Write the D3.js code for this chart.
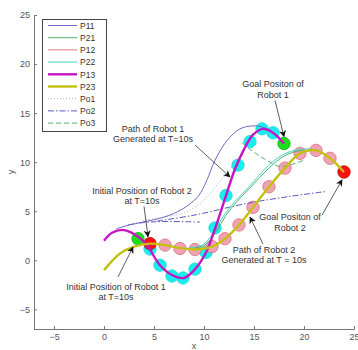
<!DOCTYPE html>
<html>
<head>
<meta charset="utf-8">
<script src="https://cdn.jsdelivr.net/npm/d3@7"></script>
<style>
  body { margin: 0; background: #fff; }
  svg text { font-family: "Liberation Sans", Arial, sans-serif; }
</style>
</head>
<body>
<svg width="358" height="350"></svg>
<script>
// tick values
var xTicks = [-5, 0, 5, 10, 15, 20, 25];
var yTicks = [-5, 0, 5, 10, 15, 20, 25];

// planned paths, [x, y]
var p13 = [[0, 2], [0.8, 2.8], [1.8, 3.1], [2.8, 2.8], [4.1, 1.8], [5.6, -0.5], [6.8, -1.5], [8.0, -1.8],
  [9.1, -0.9], [10.2, 0.8], [11.1, 3.2], [12.2, 6.6], [13.1, 9.3], [14.0, 11.3], [14.9, 12.8],
  [15.9, 13.4], [16.9, 13.0], [18.0, 11.9]];
var p23 = [[0, -1], [1.6, 0.7], [3.0, 1.4], [4.6, 1.7], [6.1, 1.55], [7.6, 1.25], [9.1, 1.1], [10.8, 1.4],
  [12.1, 2.2], [13.5, 3.6], [14.9, 5.4], [16.5, 7.5], [18.1, 9.4], [19.6, 10.9], [21.2, 11.2],
  [22.6, 10.4], [24.0, 9.0]];
var p12 = [[9.1, 1.15], [10.8, 1.45], [12.1, 2.25], [13.5, 3.65], [14.9, 5.45], [16.5, 7.55], [18.1, 9.45],
  [19.6, 10.95], [21.2, 11.25], [22.6, 10.45]];
var p11 = [[1.2, 3.2], [2.5, 3.6], [3.9, 3.9], [6.0, 4.4], [7.8, 5.2], [9.4, 6.5], [10.3, 8.2], [11.1, 10.2],
  [12.3, 12.2], [13.6, 13.4], [14.9, 13.7], [15.8, 13.6], [16.8, 13.0], [17.9, 12.0]];
var p21 = [[8.5, 1.2], [10.0, 1.5], [11.2, 2.9], [12.2, 4.6], [13.3, 6.0], [14.8, 7.6], [16.3, 9.2],
  [17.8, 10.5], [19.2, 11.1], [20.6, 11.2]];
var p22 = [[8.5, 1.3], [9.9, 1.6], [11.0, 2.9], [12.0, 4.6], [13.1, 6.0], [14.6, 7.6], [16.1, 9.3],
  [17.6, 10.6], [19.0, 11.2], [20.5, 11.35], [21.5, 11.1]];
var po1 = [[3.9, 4.1], [6.0, 4.4], [7.9, 4.8], [9.5, 5.7], [10.6, 6.8], [11.7, 8.2], [12.6, 9.2], [13.3, 10.3]];
var po2a = [[2.4, 3.6], [4.0, 3.85], [6.0, 3.95], [9.6, 3.9]];
var po2b = [[5.3, 4.0], [9.0, 4.6], [14.3, 5.8], [18.5, 6.5], [22.1, 7.0]];
var po3 = [[13.8, 12.0], [14.6, 11.3], [15.6, 10.6], [16.6, 10.0], [17.4, 9.6], [18.5, 9.7], [20.0, 10.2]];

// robot positions sampled along the paths
var robot1Pts = [[4.6, 1.15], [5.6, -0.5], [6.8, -1.6], [7.9, -1.8], [9.1, -0.9], [10.2, 0.8], [11.1, 3.3],
  [12.2, 6.6], [13.4, 9.7], [14.6, 12.1], [15.8, 13.4], [16.9, 13.0]];
var robot2Pts = [[6.1, 1.55], [7.6, 1.2], [9.1, 1.1], [10.8, 1.4], [12.1, 2.2], [13.5, 3.6], [14.9, 5.4],
  [16.5, 7.5], [18.1, 9.4], [19.6, 10.9], [21.2, 11.2], [22.6, 10.4]];
var robot1Start = [3.4, 2.2], robot1Goal = [18.0, 11.9];
var robot2Start = [4.6, 1.7], robot2Goal = [24.0, 9.0];

var legendNames = ["P11", "P21", "P12", "P22", "P13", "P23", "Po1", "Po2", "Po3"];

// annotations: text lines at (tx, ty), arrow from a to b (data units)
var notes = [
  {lines: ["Goal Positon of", "Robot 1"], tx: 16.9, ty: 17.95, a: [17.1, 16.3], b: [18.0, 12.6]},
  {lines: ["Path of Robot 1", "Generated at T=10s"], tx: 4.9, ty: 13.45, a: [9.1, 11.75], b: [12.6, 8.5]},
  {lines: ["Initial Position of Robot 2", "at T=10s"], tx: 3.8, ty: 7.1, a: [4.0, 5.5], b: [4.4, 2.4]},
  {lines: ["Initial Position of Robot 1", "at T=10s"], tx: 1.2, ty: -2.65, a: [1.4, -1.7], b: [2.9, 1.35]},
  {lines: ["Goal Positon of", "Robot 2"], tx: 18.6, ty: 4.4, a: [21.8, 4.6], b: [23.8, 8.2]},
  {lines: ["Path of Robot 2", "Generated at T = 10s"], tx: 16.0, ty: 1.1, a: [15.9, 1.65], b: [14.6, 4.4]}
];

var svg = d3.select("svg");
var x = d3.scaleLinear().domain([-7, 25]).range([34, 354]);
var y = d3.scaleLinear().domain([-7, 25]).range([329, 15]);

var line = d3.line()
  .x(function (d) { return x(d[0]); })
  .y(function (d) { return y(d[1]); })
  .curve(d3.curveCatmullRom);

var styles = {
  P11: {stroke: "#7466c4", w: 1, dash: null},
  P21: {stroke: "#4fae6a", w: 1, dash: null},
  P12: {stroke: "#e07a7a", w: 1, dash: null},
  P22: {stroke: "#45d3c3", w: 1, dash: null},
  P13: {stroke: "#c516c5", w: 2.4, dash: null},
  P23: {stroke: "#c4c010", w: 2.4, dash: null},
  Po1: {stroke: "#b9a9c0", w: 1, dash: "1,2"},
  Po2: {stroke: "#5a5ac2", w: 1, dash: "6,2,1.5,2"},
  Po3: {stroke: "#58b070", w: 1, dash: "5,3"}
};

// axes
var tickCol = "#555";
var xAxis = svg.append("g").attr("transform", "translate(0," + y(-7) + ")")
  .call(d3.axisBottom(x).tickValues(xTicks).tickSize(-3).tickPadding(5));
var yAxis = svg.append("g").attr("transform", "translate(" + x(-7) + ",0)")
  .call(d3.axisLeft(y).tickValues(yTicks).tickSize(-3).tickPadding(4));
[xAxis, yAxis].forEach(function (g) {
  g.select(".domain").attr("stroke", "#777");
  g.selectAll(".tick line").attr("stroke", "#777");
  g.selectAll("text").attr("fill", tickCol).style("font-size", "9px")
    .style("font-family", "Liberation Sans, Arial, sans-serif");
});
svg.append("text").attr("x", x(9)).attr("y", 349).attr("text-anchor", "middle")
  .attr("fill", tickCol).style("font-size", "9px").text("x");
svg.append("text").attr("transform", "translate(14," + y(9) + ") rotate(-90)")
  .attr("text-anchor", "middle").attr("fill", tickCol).style("font-size", "9px").text("y");

// markers
function dots(pts, fill, stroke) {
  svg.append("g").selectAll("circle").data(pts).enter().append("circle")
    .attr("cx", function (d) { return x(d[0]); })
    .attr("cy", function (d) { return y(d[1]); })
    .attr("r", 6.2)
    .attr("fill", fill).attr("stroke", stroke).attr("stroke-width", 0.8);
}
dots(robot1Pts, "#19eeee", "#22d8d8");
dots(robot2Pts, "#f2a2b6", "#d9707e");
dots([robot1Start, robot1Goal], "#19e019", "#10b010");
dots([robot2Start, robot2Goal], "#ff1010", "#c00000");

// paths
function path(data, name) {
  var s = styles[name];
  svg.append("path").datum(data).attr("d", line)
    .attr("fill", "none").attr("stroke", s.stroke).attr("stroke-width", s.w)
    .attr("stroke-dasharray", s.dash);
}
path(po1, "Po1");
path(po2a, "Po2");
path(po2b, "Po2");
path(po3, "Po3");
path(p11, "P11");
path(p12, "P12");
path(p21, "P21");
path(p22, "P22");
path(p13, "P13");
path(p23, "P23");

// annotations
svg.append("defs").append("marker").attr("id", "ah")
  .attr("viewBox", "0 0 10 10").attr("refX", 9).attr("refY", 5)
  .attr("markerWidth", 7).attr("markerHeight", 7).attr("orient", "auto")
  .attr("markerUnits", "userSpaceOnUse")
  .append("path").attr("d", "M0,0 L10,5 L0,10 L3,5 Z").attr("fill", "#111");

notes.forEach(function (n) {
  svg.append("line")
    .attr("x1", x(n.a[0])).attr("y1", y(n.a[1]))
    .attr("x2", x(n.b[0])).attr("y2", y(n.b[1]))
    .attr("stroke", "#333").attr("stroke-width", 0.8).attr("marker-end", "url(#ah)");
  var t = svg.append("text").attr("text-anchor", "middle").attr("fill", "#333")
    .style("font-size", "9px");
  n.lines.forEach(function (s, i) {
    t.append("tspan").attr("x", x(n.tx)).attr("y", y(n.ty) + i * 10.5 + 3.2).text(s);
  });
});

// legend
var lg = svg.append("g");
lg.append("rect").attr("x", 42.5).attr("y", 19.5).attr("width", 64).attr("height", 112)
  .attr("fill", "#fff").attr("stroke", "#444").attr("stroke-width", 1);
legendNames.forEach(function (name, i) {
  var s = styles[name];
  var yy = 25.5 + i * 12.2;
  lg.append("line").attr("x1", 48).attr("x2", 77).attr("y1", yy).attr("y2", yy)
    .attr("stroke", s.stroke).attr("stroke-width", s.w).attr("stroke-dasharray", s.dash);
  lg.append("text").attr("x", 80).attr("y", yy + 3.2).attr("fill", "#333")
    .style("font-size", "8.5px").text(name);
});
</script>
</body>
</html>
